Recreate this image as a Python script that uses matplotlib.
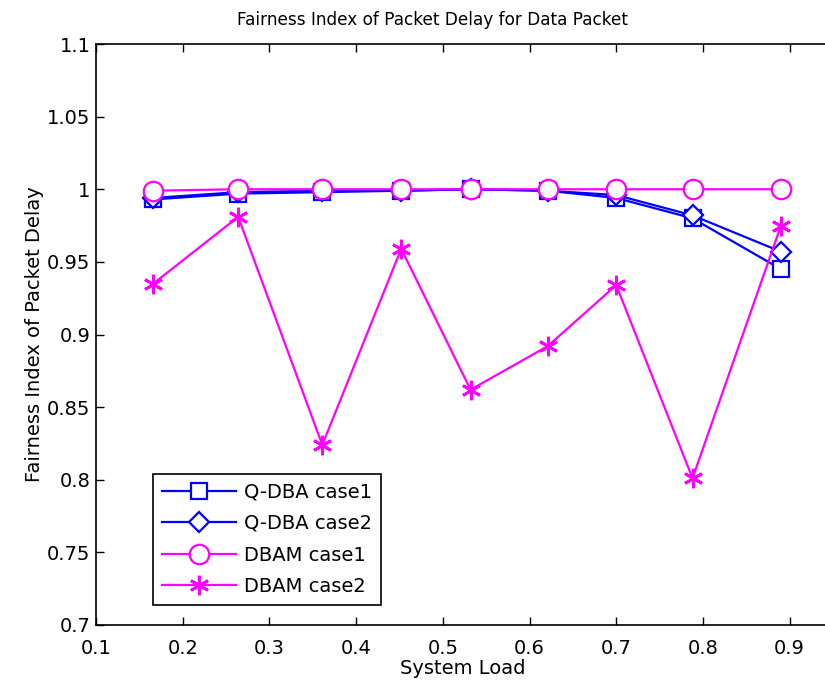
import matplotlib
matplotlib.use("Agg")
import matplotlib.pyplot as plt

# System load values and fairness index per scheme
load = [0.166, 0.264, 0.361, 0.452, 0.532, 0.621, 0.700, 0.788, 0.890]
qdba_case1 = [0.993, 0.997, 0.998, 0.999, 1.000, 0.999, 0.994, 0.980, 0.945]
qdba_case2 = [0.994, 0.998, 0.999, 0.999, 1.000, 0.999, 0.996, 0.982, 0.957]
dbam_case1 = [0.999, 1.000, 1.000, 1.000, 1.000, 1.000, 1.000, 1.000, 1.000]
dbam_case2 = [0.935, 0.981, 0.824, 0.959, 0.862, 0.892, 0.934, 0.801, 0.975]
labels = ["Q-DBA case1", "Q-DBA case2", "DBAM case1", "DBAM case2"]

plt.rcParams['font.family'] = ['DejaVu Sans']
plt.rcParams['font.size'] = 14

fig = plt.figure(figsize=(8.25, 6.91), dpi=100)
# axes runs past the right edge of the canvas
ax = fig.add_axes([96 / 825, 66 / 691, 737 / 825, 581 / 691])

blue = '#0000FF'
magenta = '#FF00FF'
ax.plot(load, qdba_case1, color=blue, lw=1.6, marker='s', ms=12,
        mfc='white', mec=blue, mew=1.6, label=labels[0])
ax.plot(load, qdba_case2, color=blue, lw=1.6, marker='D', ms=10,
        mfc='white', mec=blue, mew=1.6, label=labels[1])
ax.plot(load, dbam_case1, color=magenta, lw=1.6, marker='o', ms=14,
        mfc='white', mec=magenta, mew=1.6, label=labels[2])
ax.plot(load, dbam_case2, color=magenta, lw=1.6, marker=(6, 2, 0), ms=14,
        mec=magenta, mew=2, label=labels[3])

ax.set_xlim(0.1, 0.95)
ax.set_ylim(0.7, 1.1)
ax.set_xticks([0.1, 0.2, 0.3, 0.4, 0.5, 0.6, 0.7, 0.8, 0.9])
ax.set_xticklabels(['0.1', '0.2', '0.3', '0.4', '0.5', '0.6', '0.7', '0.8', '0.9'])
ax.set_yticks([0.7, 0.75, 0.8, 0.85, 0.9, 0.95, 1.0, 1.05, 1.1])
ax.set_yticklabels(['0.7', '0.75', '0.8', '0.85', '0.9', '0.95', '1', '1.05', '1.1'])
ax.tick_params(direction='in', length=6, width=1, top=True, right=True)
ax.tick_params(axis='x', pad=10)
ax.tick_params(axis='y', pad=4)
for s in ax.spines.values():
    s.set_linewidth(1.2)

ax.set_title("Fairness Index of Packet Delay for Data Packet", x=0.457,
             pad=14, fontsize=12.2)
ax.set_xlabel("System Load", x=0.497, labelpad=1)
ax.set_ylabel("Fairness Index of Packet Delay", labelpad=2)

leg = ax.legend(loc='lower left', bbox_to_anchor=(57 / 737, 20 / 581),
                fancybox=False, framealpha=1, edgecolor='black',
                handlelength=3.8, borderpad=0.45, labelspacing=0.65,
                handletextpad=0.45, borderaxespad=0)
leg.get_frame().set_linewidth(1.2)

fig.savefig("out.png", dpi=100)
